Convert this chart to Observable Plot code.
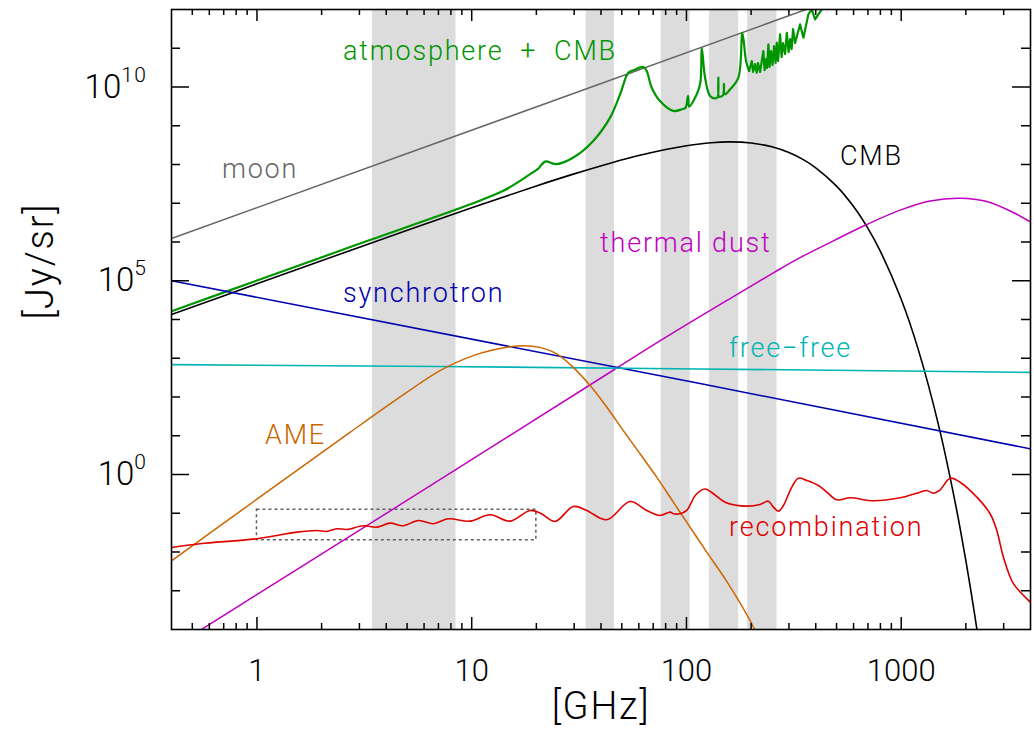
<!DOCTYPE html>
<html><head><meta charset="utf-8">
<script src="https://cdn.jsdelivr.net/npm/d3@7"></script>
<script src="https://cdn.jsdelivr.net/npm/@observablehq/plot@0.6"></script>
<style>
html,body{margin:0;padding:0;background:#fff;}
#chart{width:1034px;height:739px;}
</style></head><body><div id="chart"></div>
<script>
// ---- data (frequency in GHz, intensity in Jy/sr) ----
const bands = [[3.45, 8.45], [34.1, 46.2], [76.3, 104.1], [127.9, 175], [192.7, 264]];
const boxRegion = [[1, 20, 0.02, 0.123]];

const moon = [[0.4, 1.23e6], [4000, 1.23e14]];
const synchrotron = [[0.4, 1e5], [115.7, 222], [4000, 4.6]];
const freefree = [[0.4, 684], [7.1, 615], [115.7, 530], [4000, 433]];

const cmb = [[0.4, 1.34e4], [1, 8.31e4], [3, 7.35e5], [10, 7.67e6], [20, 2.80e7], [30, 5.73e7],
  [45, 1.113e8], [60, 1.70e8], [80, 2.445e8], [100, 3.06e8], [130, 3.658e8], [160, 3.84e8],
  [200, 3.594e8], [250, 2.859e8], [300, 2.03e8], [350, 1.335e8], [400, 8.23e7], [500, 2.77e7],
  [600, 8.2e6], [700, 2.24e6], [800, 5.74e5], [1000, 3.33e4], [1200, 1.696e3], [1500, 16.7],
  [1800, 0.147], [2000, 5.96e-3], [2100, 1.19e-3], [2200, 2.34e-4], [2300, 4.6e-5]];

// atmosphere + CMB: smooth part (water / oxygen lines)
const atmosphereLow = [[0.4, 1.64e4], [1, 1.01e5], [3, 9.0e5], [10, 9.7e6], [14.03, 2.09e7],
  [16.79, 3.78e7], [18.69, 5.62e7], [20.36, 7.7e7], [21.95, 1.19e8], [24.9, 1.02e8],
  [29.73, 1.51e8], [36.8, 4.06e8], [44.1, 1.62e9], [49.1, 6.5e9], [53.6, 2.34e10],
  [56.6, 2.69e10], [63.0, 3.28e10], [65.3, 2.58e10], [68.9, 9.6e9], [75.3, 4.35e9],
  [86.9, 2.41e9], [95.1, 2.66e9], [99, 2.9e9], [101.7, 5.9e9], [103, 3.1e9], [107.7, 4.35e9],
  [115.7, 1.17e10], [117.8, 1.03e11], [122.1, 1.74e10], [128.8, 5.87e9], [135.9, 5.1e9],
  [139.5, 5.4e9], [140.8, 1.74e10], [142, 5.6e9], [148, 6.2e9], [149.5, 1.2e10], [151, 6.5e9],
  [159.7, 8.7e9], [174.5, 1.74e10], [182.1, 2.5e11], [189.5, 4.68e10], [195.7, 2.58e10]];
// atmosphere + CMB: forest of narrow (ozone) lines above 190 GHz
const atmosphereHigh = [[195.7, 2.58e10], [201.5, 4.68e10], [204.3, 2.44e10], [208.7, 3.92e10],
  [212.5, 2.34e10], [215.5, 4.16e10], [220.2, 2.44e10], [228.1, 8.47e10], [231.1, 2.74e10],
  [234.9, 5.27e10], [237.4, 3.09e10], [240.7, 1.26e11], [243.8, 3.28e10], [247.7, 8.47e10],
  [251.8, 3.69e10], [255.9, 1.14e11], [260.0, 4.16e10], [263.4, 1.39e11], [267.1, 4.68e10],
  [272.9, 2.28e11], [277.3, 5.93e10], [281.8, 1.36e11], [287.9, 7.1e10], [293.3, 2.51e11],
  [298.9, 7.98e10], [303.8, 1.73e11], [308.7, 9.54e10], [313.7, 3.13e11], [320.5, 1.36e11],
  [338.1, 4.13e11], [350.4, 1.87e11], [369.6, 7.48e11], [383.4, 1.01e12], [397.2, 5.56e11],
  [411.5, 7.48e11], [426.8, 1.01e12], [466.6, 1.65e12], [520, 5e12]];

const dust = [[0.4, 3.27e-5], [1.531, 3.5e-3], [8.36, 1.29], [45.6, 490], [81, 3.6e3],
  [165.4, 3.9e4], [254, 1.6e5], [338, 3.95e5], [483, 1.07e6], [679, 2.7e6], [988, 6.64e6],
  [1363, 1.15e7], [1881, 1.35e7], [2504, 1.11e7], [3332, 5.76e6], [3985, 3.32e6]];

const ame = [[0.4, 5.9e-3], [1, 0.23], [2.71, 12.2], [5, 133], [7.12, 479], [10.17, 1170],
  [14.56, 1910], [17.4, 2110], [20.8, 1910], [24.9, 1290], [29.7, 583], [35.6, 197],
  [42.6, 54.3], [50.8, 13.6], [60.8, 3.42], [72.7, 0.852], [86.9, 0.193], [103.9, 0.0438],
  [124.3, 0.0099], [154, 1.75e-3], [205, 1.16e-4], [230, 2.5e-5]];

const recombination = [[0.4, 0.0131], [0.543, 0.0164], [1.0, 0.0220], [1.531, 0.0326],
  [1.897, 0.0360], [2.112, 0.0340], [2.351, 0.0399], [2.617, 0.0382], [3.127, 0.0476],
  [3.610, 0.0438], [4.164, 0.0556], [4.801, 0.0476], [5.640, 0.0652], [6.625, 0.0536],
  [7.780, 0.0721], [9.82, 0.0626], [12.17, 0.0915], [15.08, 0.0626], [18.69, 0.1181],
  [20.81, 0.1018], [24.43, 0.0615], [29.73, 0.1497], [34.32, 0.1181], [42.55, 0.0680],
  [54.62, 0.2014], [65.33, 0.1181], [75.37, 0.0877], [83.87, 0.1068], [86.9, 0.0971],
  [93.38, 0.0971], [100.3, 0.1181], [110.8, 0.305], [122.1, 0.423], [133.5, 0.318],
  [151.3, 0.193], [190.9, 0.1524], [220.2, 0.1686], [240.7, 0.205], [254.0, 0.1437],
  [268.0, 0.1132], [282.8, 0.1589], [309.4, 0.471], [332.0, 0.803], [363.3, 0.700],
  [411.6, 0.520], [450.4, 0.350], [501.2, 0.2228], [578.1, 0.2508], [742.2, 0.210],
  [988.3, 0.2508], [1224, 0.350], [1316, 0.387], [1413, 0.330], [1518, 0.403], [1690, 0.803],
  [1881, 0.633], [2250, 0.260], [2594, 0.0971], [2787, 0.0360], [2992, 7.39e-3],
  [3332, 1.52e-3], [3913, 5.66e-4], [4000, 5.0e-4]];

const labels = [
  {text: "atmosphere  +  CMB", nu: 2.515, I: 8.5e10, color: "#009600"},
  {text: "moon", nu: 0.687, I: 7.7e7, color: "#666666"},
  {text: "CMB", nu: 519, I: 1.67e8, color: "#000000"},
  {text: "thermal dust", nu: 39.6, I: 9.5e5, color: "#c000c0"},
  {text: "synchrotron", nu: 2.515, I: 4.6e4, color: "#0000b0"},
  {text: "free\u2212free", nu: 157.9, I: 1.77e3, color: "#00b4b4"},
  {text: "AME", nu: 1.09, I: 10.1, color: "#cc6600"},
  {text: "recombination", nu: 157.9, I: 0.043, color: "#e00000"}
];

const xMajor = [1, 10, 100, 1000];
const xMinor = [0.5, 0.6, 0.7, 0.8, 0.9, 2, 3, 4, 5, 6, 7, 8, 9, 20, 30, 40, 50, 60, 70, 80, 90,
  200, 300, 400, 500, 600, 700, 800, 900, 2000, 3000];
const yMajor = [1, 1e5, 1e10];
const yMinor = [1e-3, 1e-2, 1e-1, 1e1, 1e2, 1e3, 1e4, 1e6, 1e7, 1e8, 1e9, 1e11];
const yLabelTicks = [1, 1e5, 1e10];
const xTitle = "[GHz]";
const yTitle = "[Jy/sr]";

// ---- layout ----
const W = 1034, H = 739;
const mT = 9, mB = 110, mL = 171, mR = 4;
const innerW = W - mL - mR, innerH = H - mT - mB;
const fx = d => d[0], fy = d => d[1];

function curve(data, color, width, curveType) {
  return Plot.line(data, {x: fx, y: fy, stroke: color, strokeWidth: width,
    curve: curveType, clip: true, strokeLinejoin: "round"});
}

const plot = Plot.plot({
  width: W, height: H,
  marginTop: mT, marginBottom: mB, marginLeft: mL, marginRight: mR,
  style: {fontFamily: "Roboto, 'DejaVu Sans', sans-serif", fontSize: "31px", fontWeight: 300,
    background: "#fff", color: "#000"},
  x: {type: "log", domain: [0.4, 4000]},
  y: {type: "log", domain: [1e-4, 1e12]},
  marks: [
    Plot.rect(bands, {x1: d => d[0], x2: d => d[1], fill: "#dcdcdc"}),
    Plot.rect(boxRegion, {x1: d => d[0], x2: d => d[1], y1: d => d[2], y2: d => d[3],
      fill: "none", stroke: "#606060", strokeWidth: 1.5, strokeDasharray: "3,3"}),
    curve(moon, "#666666", 1.5, "linear"),
    curve(cmb, "#000000", 1.6, "catmull-rom"),
    curve(atmosphereLow, "#009600", 2.2, "catmull-rom"),
    curve(atmosphereHigh, "#009600", 2.2, "linear"),
    curve(dust, "#c000c0", 1.5, "catmull-rom"),
    curve(synchrotron, "#0000b0", 1.6, "linear"),
    curve(freefree, "#00b4b4", 1.6, "linear"),
    curve(ame, "#cc6600", 1.5, "catmull-rom"),
    curve(recombination, "#e00000", 1.6, "catmull-rom"),
    Plot.frame({stroke: "#000", strokeWidth: 1.6}),
    // inward ticks on all four sides
    Plot.tickX(xMajor, {x: d => d, insetTop: innerH - 12, stroke: "#000", strokeWidth: 1.5}),
    Plot.tickX(xMinor, {x: d => d, insetTop: innerH - 6, stroke: "#000", strokeWidth: 1.5}),
    Plot.tickX(xMajor, {x: d => d, insetBottom: innerH - 12, stroke: "#000", strokeWidth: 1.5}),
    Plot.tickX(xMinor, {x: d => d, insetBottom: innerH - 6, stroke: "#000", strokeWidth: 1.5}),
    Plot.tickY(yMajor, {y: d => d, insetRight: innerW - 18, stroke: "#000", strokeWidth: 1.5}),
    Plot.tickY(yMinor, {y: d => d, insetRight: innerW - 9, stroke: "#000", strokeWidth: 1.5}),
    Plot.tickY(yMajor, {y: d => d, insetLeft: innerW - 18, stroke: "#000", strokeWidth: 1.5}),
    Plot.tickY(yMinor, {y: d => d, insetLeft: innerW - 9, stroke: "#000", strokeWidth: 1.5}),
    Plot.axisX({ticks: xMajor, tickSize: 0, tickPadding: 29, tickFormat: d => String(d), label: null}),
    Plot.axisY({ticks: yLabelTicks, tickSize: 0, tickPadding: 24, fontSize: 33,
      tickFormat: d => "10^" + Math.round(Math.log10(d)), label: null}),
    Plot.text([xTitle], {frameAnchor: "bottom", dy: 89, fontSize: 38, text: d => d}),
    Plot.text([yTitle], {frameAnchor: "left", dx: -131, rotate: -90, fontSize: 38, text: d => d}),
    ...labels.map(l => Plot.text([l], {x: "nu", y: "I", text: "text", fill: l.color,
      textAnchor: "start", fontSize: 27}))
  ]
});

// superscript exponents on the y tick labels
d3.select(plot).selectAll('g[aria-label="y-axis tick label"] text').each(function () {
  const t = this.textContent;
  if (t.startsWith("10^")) {
    const e = t.slice(3);
    const s = d3.select(this);
    s.text(null);
    s.append("tspan").text("10");
    s.append("tspan").attr("dy", "-16px").attr("font-size", "21px")
      .style("letter-spacing", "1.5px").text(e);
  }
});
d3.select(plot).selectAll('g[aria-label="text"] text')
  .style("letter-spacing", "1.8px").style("white-space", "pre");

document.getElementById("chart").appendChild(plot);
</script>
</body></html>
